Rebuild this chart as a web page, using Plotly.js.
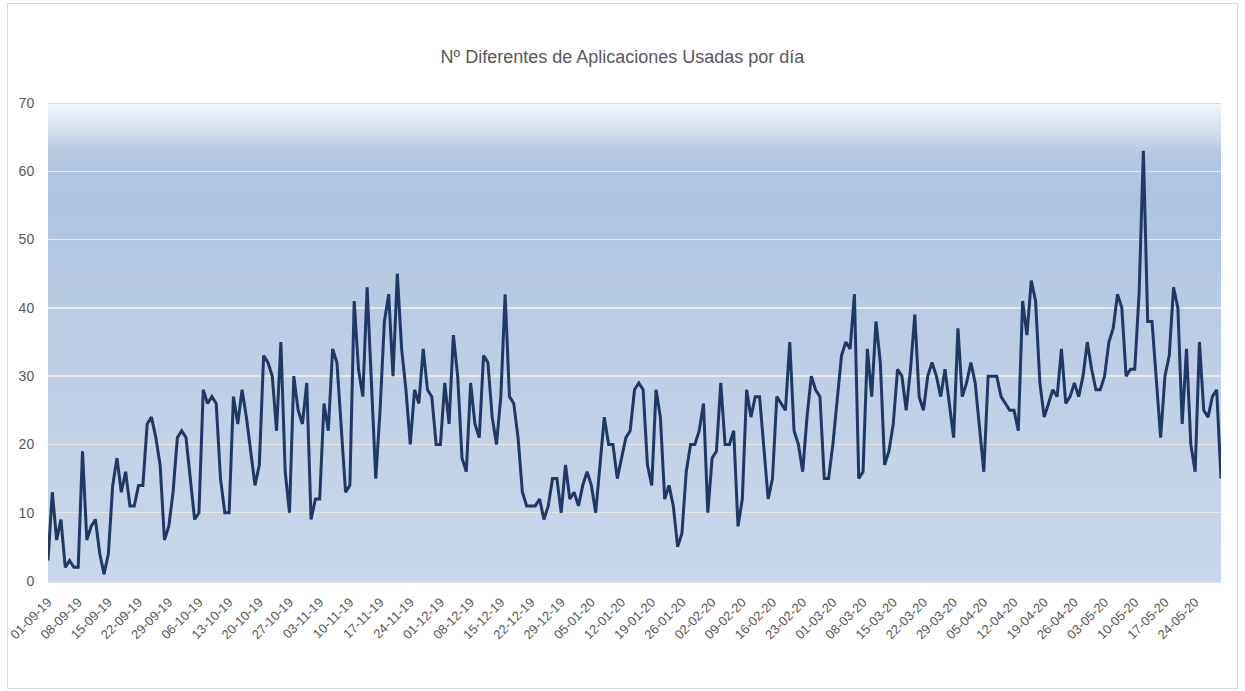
<!DOCTYPE html>
<html>
<head>
<meta charset="utf-8">
<script src="https://cdn.plot.ly/plotly-3.0.1.min.js"></script>
<style>
  html, body { margin: 0; padding: 0; background: #ffffff; }
  #chart { width: 1245px; height: 691px; position: absolute; left: 0; top: 0; }
  #frame { position: absolute; left: 7px; top: 3px; width: 1229px; height: 684px;
           border: 1px solid #d9d9d9; pointer-events: none; }
</style>
</head>
<body>
<div id="chart"></div>
<div id="frame"></div>
<script>
// ---- Data ----
const startDate = '2019-09-01';
const chartTitle = 'Nº Diferentes de Aplicaciones Usadas por día';
const appsPerDay = [
  3,13,6,9,2,3,2,2,19,6,
  8,9,4,1,4,14,18,13,16,11,
  11,14,14,23,24,21,17,6,8,13,
  21,22,21,15,9,10,28,26,27,26,
  15,10,10,27,23,28,24,19,14,17,
  33,32,30,22,35,16,10,30,25,23,
  29,9,12,12,26,22,34,32,22,13,
  14,41,31,27,43,30,15,25,38,42,
  30,45,34,28,20,28,26,34,28,27,
  20,20,29,23,36,30,18,16,29,23,
  21,33,32,24,20,27,42,27,26,21,
  13,11,11,11,12,9,11,15,15,10,
  17,12,13,11,14,16,14,10,17,24,
  20,20,15,18,21,22,28,29,28,17,
  14,28,24,12,14,11,5,7,16,20,
  20,22,26,10,18,19,29,20,20,22,
  8,12,28,24,27,27,19,12,15,27,
  26,25,35,22,20,16,24,30,28,27,
  15,15,20,26,33,35,34,42,15,16,
  34,27,38,32,17,19,23,31,30,25,
  31,39,27,25,30,32,30,27,31,26,
  21,37,27,29,32,29,23,16,30,30,
  30,27,26,25,25,22,41,36,44,41,
  29,24,26,28,27,34,26,27,29,27,
  30,35,31,28,28,30,35,37,42,40,
  30,31,31,42,63,38,38,30,21,30,
  33,43,40,23,34,20,16,35,25,24,
  27,28,15
];
const tickLabels = [
  '01-09-19','08-09-19','15-09-19','22-09-19','29-09-19','06-10-19','13-10-19',
  '20-10-19','27-10-19','03-11-19','10-11-19','17-11-19','24-11-19','01-12-19',
  '08-12-19','15-12-19','22-12-19','29-12-19','05-01-20','12-01-20','19-01-20',
  '26-01-20','02-02-20','09-02-20','16-02-20','23-02-20','01-03-20','08-03-20',
  '15-03-20','22-03-20','29-03-20','05-04-20','12-04-20','19-04-20','26-04-20',
  '03-05-20','10-05-20','17-05-20','24-05-20'
];
const yTicks = [0, 10, 20, 30, 40, 50, 60, 70];

// ---- Build date categories (one per day) ----
function pad(n) { return (n < 10 ? '0' : '') + n; }
const sp = startDate.split('-').map(Number);
const days = appsPerDay.map((_, i) => {
  const d = new Date(Date.UTC(sp[0], sp[1] - 1, sp[2] + i));
  return d.getUTCFullYear() + '-' + pad(d.getUTCMonth() + 1) + '-' + pad(d.getUTCDate());
});
const tickVals = tickLabels.map(t => {
  const p = t.split('-');
  return '20' + p[2] + '-' + p[1] + '-' + p[0];
});

// ---- Gradient background bands ----
const gradStops = [
  [70, '#f3f6fb'], [67, '#dde6f2'], [62.5, '#b4c6e1'], [55, '#afc3df'],
  [40, '#b9cbe4'], [20, '#c3d2e7'], [0, '#c9d7ea']
];
function hexToRgb(h) { return [1,3,5].map(k => parseInt(h.substr(k, 2), 16)); }
function colorAt(v) {
  for (let k = 0; k < gradStops.length - 1; k++) {
    const [v0, c0] = gradStops[k], [v1, c1] = gradStops[k + 1];
    if (v <= v0 && v >= v1) {
      const t = (v0 - v) / (v0 - v1);
      const a = hexToRgb(c0), b = hexToRgb(c1);
      const r = a.map((x, j) => Math.round(x + (b[j] - x) * t));
      return 'rgb(' + r.join(',') + ')';
    }
  }
  return gradStops[gradStops.length - 1][1];
}
const shapes = [];
const step = 0.5;
for (let v = 70; v > 0; v -= step) {
  shapes.push({
    type: 'rect', xref: 'paper', yref: 'y', x0: 0, x1: 1,
    y0: Math.max(0, v - step - 0.6), y1: v,
    fillcolor: colorAt(v - step / 2), line: { width: 0 }, layer: 'below'
  });
}
// top border line at 70
shapes.push({ type: 'line', xref: 'paper', yref: 'y', x0: 0, x1: 1, y0: 70, y1: 70,
  line: { color: '#d0d0d0', width: 1.5 }, layer: 'below' });

const fontFam = '"Liberation Sans", Arial, sans-serif';

const trace = {
  type: 'scatter', mode: 'lines', x: days, y: appsPerDay,
  line: { color: '#1f3864', width: 3, shape: 'linear' },
  hoverinfo: 'x+y'
};

const layout = {
  width: 1245, height: 691,
  margin: { l: 48, r: 24, t: 103, b: 110 },
  paper_bgcolor: 'rgba(0,0,0,0)',
  plot_bgcolor: 'rgba(0,0,0,0)',
  showlegend: false,
  title: {
    text: chartTitle, x: 0.5, xanchor: 'center', xref: 'container',
    y: 1 - 57 / 691, yanchor: 'middle', yref: 'container',
    font: { family: fontFam, size: 18, color: '#595959' }
  },
  xaxis: {
    type: 'date',
    range: [days[0], days[days.length - 1]],
    tickmode: 'array', tickvals: tickVals, ticktext: tickLabels,
    tickangle: -45,
    ticks: 'outside', ticklen: 7, tickcolor: 'rgba(0,0,0,0)',
    tickfont: { family: fontFam, size: 13, color: '#595959' },
    showgrid: false, zeroline: false,
    showline: true, linecolor: '#dcdcdc', linewidth: 1.5,
    fixedrange: true
  },
  yaxis: {
    range: [0, 70], tickmode: 'array', tickvals: yTicks,
    ticks: 'outside', ticklen: 10, tickcolor: 'rgba(0,0,0,0)',
    tickfont: { family: fontFam, size: 14, color: '#595959' },
    showgrid: true, gridcolor: 'rgba(236,231,226,0.95)', gridwidth: 1.5,
    zeroline: false, showline: false, fixedrange: true
  },
  shapes: shapes
};

Plotly.newPlot('chart', [trace], layout, { displayModeBar: false, staticPlot: true });
</script>
</body>
</html>
